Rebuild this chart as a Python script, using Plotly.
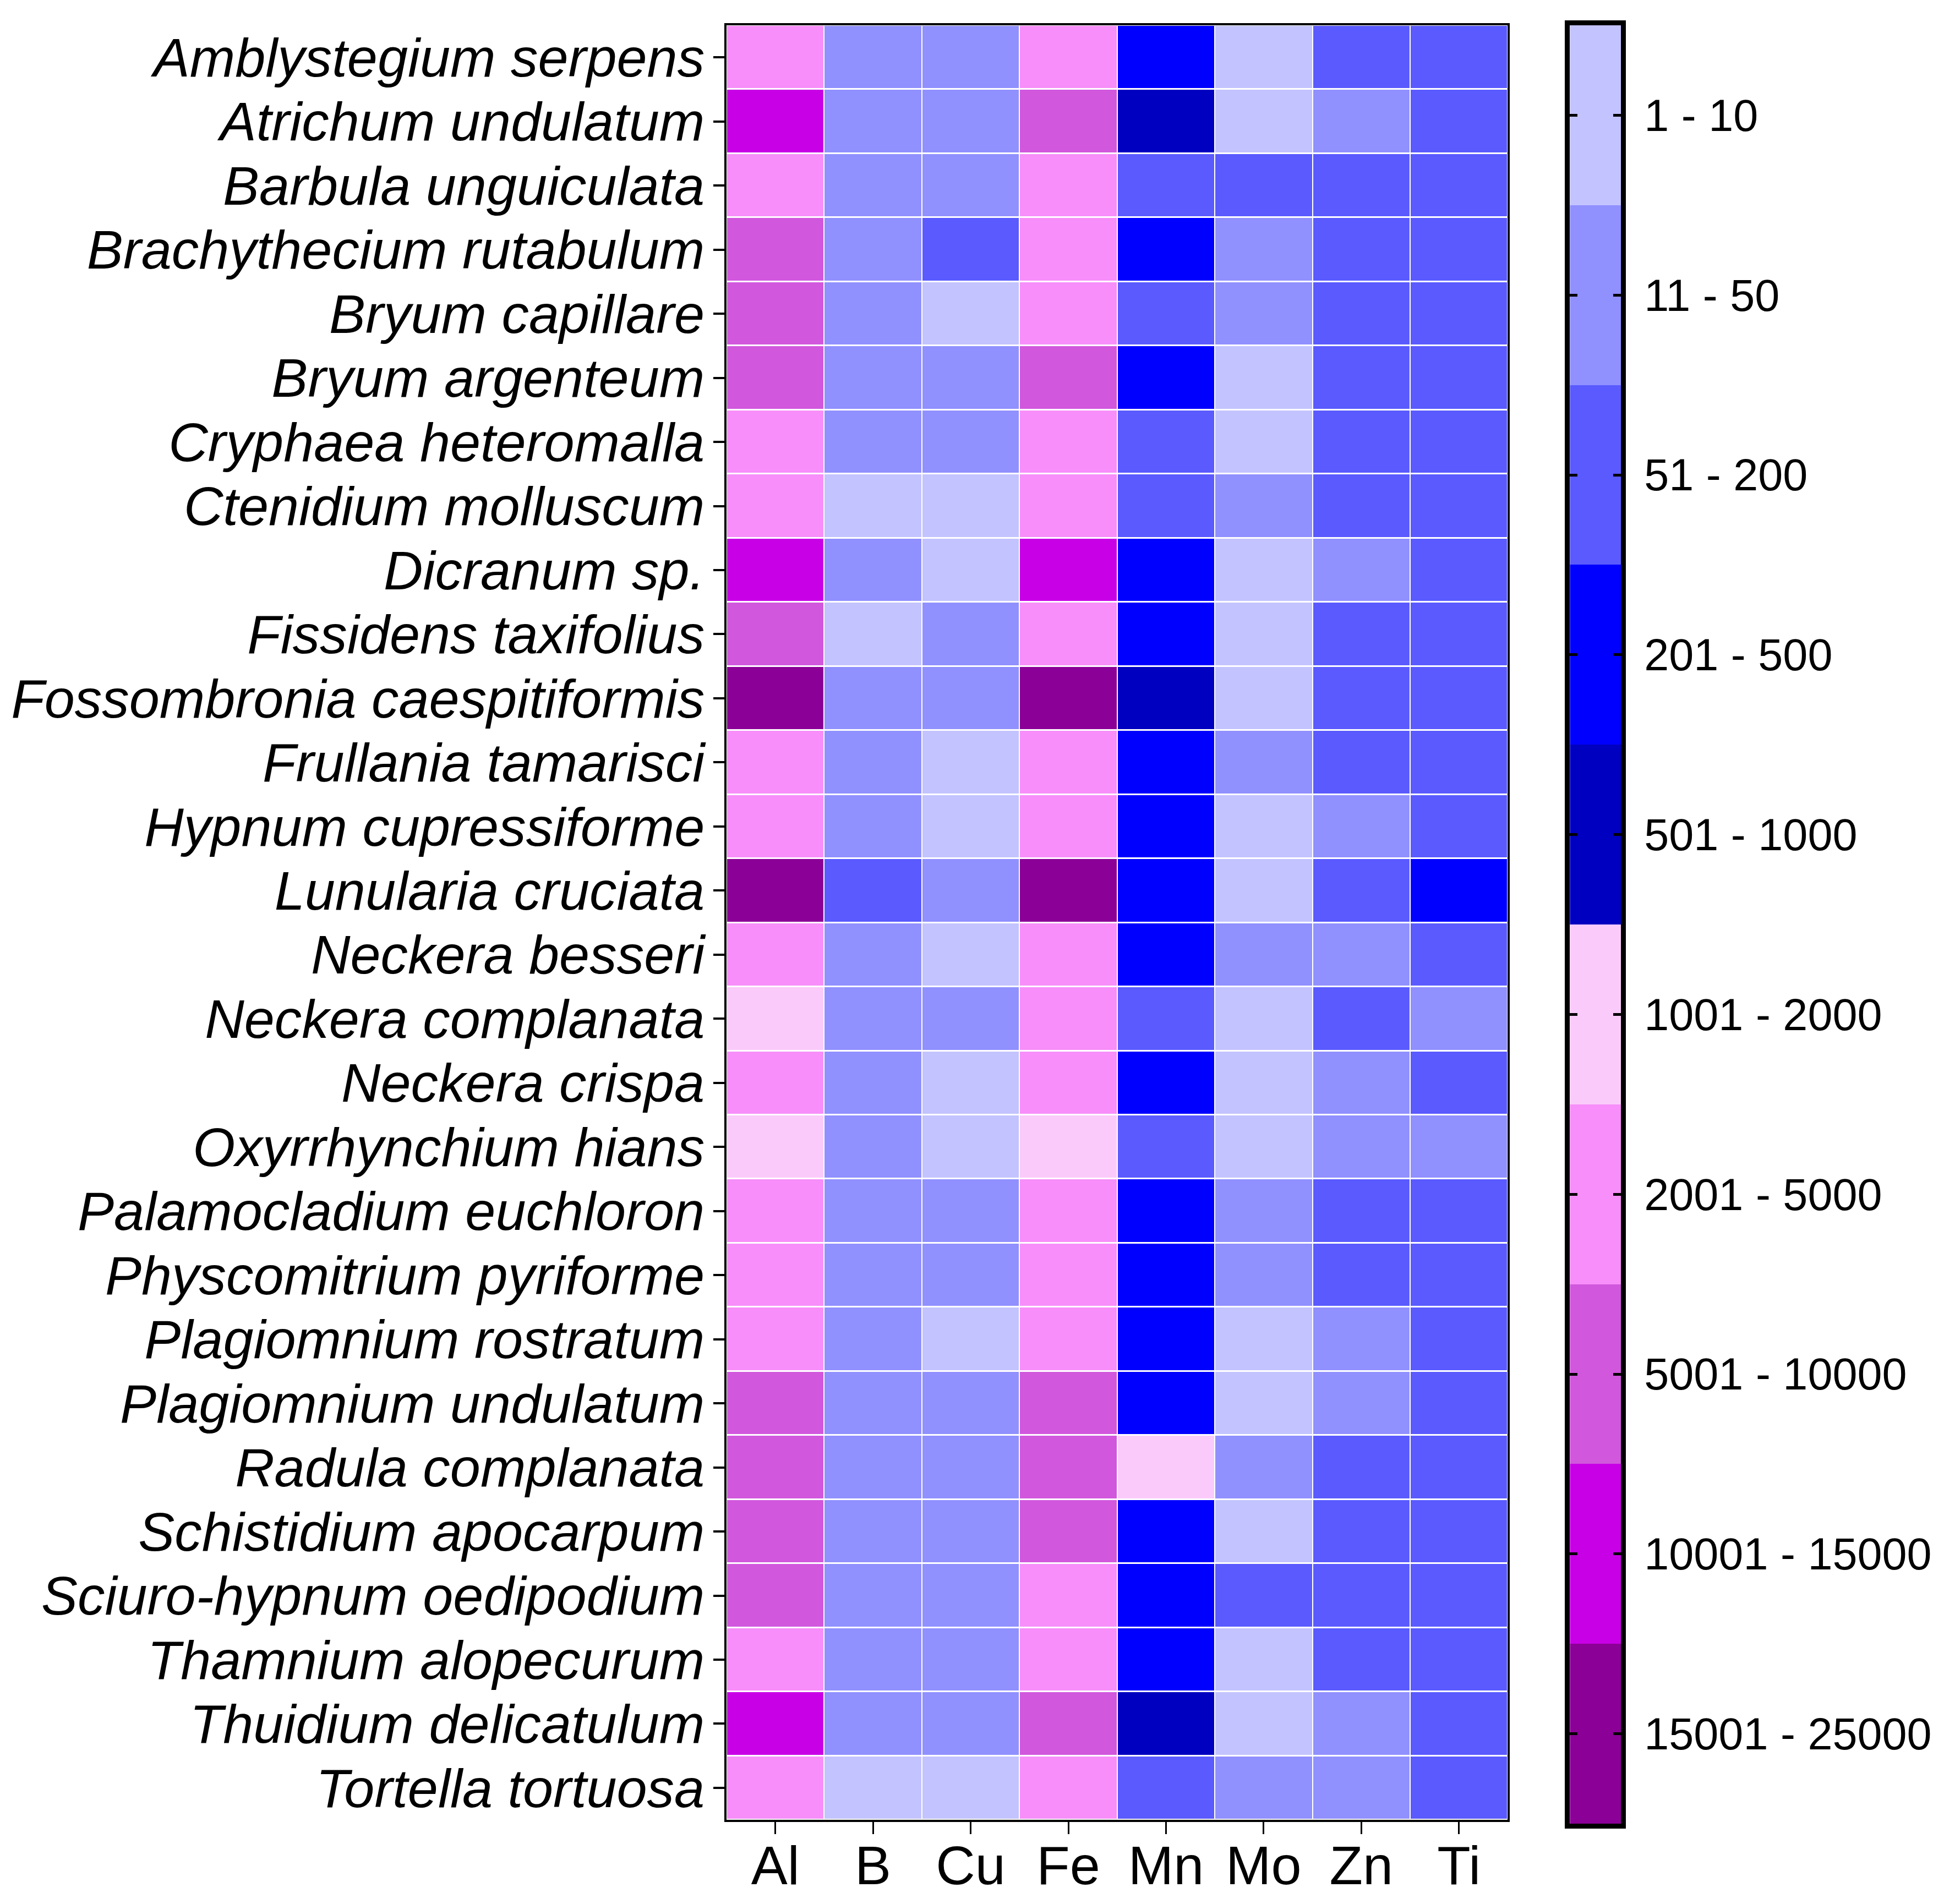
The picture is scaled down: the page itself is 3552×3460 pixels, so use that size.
import plotly.graph_objects as go

# concentration classes (legend order, top to bottom)
bins = ["1 - 10", "11 - 50", "51 - 200", "201 - 500", "501 - 1000",
        "1001 - 2000", "2001 - 5000", "5001 - 10000", "10001 - 15000", "15001 - 25000"]
bin_colors = ["#C3C3FF", "#9090FF", "#5A5AFF", "#0000FF", "#0000C0",
              "#FACBFA", "#F78EF9", "#D157DD", "#C800E6", "#8B0096"]

elements = ["Al", "B", "Cu", "Fe", "Mn", "Mo", "Zn", "Ti"]

species = [
    "Amblystegium serpens", "Atrichum undulatum", "Barbula unguiculata",
    "Brachythecium rutabulum", "Bryum capillare", "Bryum argenteum",
    "Cryphaea heteromalla", "Ctenidium molluscum", "Dicranum sp.",
    "Fissidens taxifolius", "Fossombronia caespitiformis", "Frullania tamarisci",
    "Hypnum cupressiforme", "Lunularia cruciata", "Neckera besseri",
    "Neckera complanata", "Neckera crispa", "Oxyrrhynchium hians",
    "Palamocladium euchloron", "Physcomitrium pyriforme", "Plagiomnium rostratum",
    "Plagiomnium undulatum", "Radula complanata", "Schistidium apocarpum",
    "Sciuro-hypnum oedipodium", "Thamnium alopecurum", "Thuidium delicatulum",
    "Tortella tortuosa",
]

# class index (position in bins) per element, one entry per species
Al = [6, 8, 6, 7, 7, 7, 6, 6, 8, 7, 9, 6, 6, 9, 6, 5, 6, 5, 6, 6, 6, 7, 7, 7, 7, 6, 8, 6]
B  = [1, 1, 1, 1, 1, 1, 1, 0, 1, 0, 1, 1, 1, 2, 1, 1, 1, 1, 1, 1, 1, 1, 1, 1, 1, 1, 1, 0]
Cu = [1, 1, 1, 2, 0, 1, 1, 0, 0, 1, 1, 0, 0, 1, 0, 1, 0, 0, 1, 1, 0, 1, 1, 1, 1, 1, 1, 0]
Fe = [6, 7, 6, 6, 6, 7, 6, 6, 8, 6, 9, 6, 6, 9, 6, 6, 6, 5, 6, 6, 6, 7, 7, 7, 6, 6, 7, 6]
Mn = [3, 4, 2, 3, 2, 3, 2, 2, 3, 3, 4, 3, 3, 3, 3, 2, 3, 2, 3, 3, 3, 3, 5, 3, 3, 3, 4, 2]
Mo = [0, 0, 2, 1, 1, 0, 0, 1, 0, 0, 0, 1, 0, 0, 1, 0, 0, 0, 1, 1, 0, 0, 1, 0, 2, 0, 0, 1]
Zn = [2, 1, 2, 2, 2, 2, 2, 2, 1, 2, 2, 2, 1, 2, 1, 2, 1, 1, 2, 2, 1, 1, 2, 2, 2, 2, 1, 1]
Ti = [2, 2, 2, 2, 2, 2, 2, 2, 2, 2, 2, 2, 2, 3, 2, 1, 2, 1, 2, 2, 2, 2, 2, 2, 2, 2, 2, 2]

columns = [Al, B, Cu, Fe, Mn, Mo, Zn, Ti]
z = [[col[i] for col in columns] for i in range(len(species))]

n = len(bins)
cscale = []
for i, c in enumerate(bin_colors):
    cscale.append([i / n, c])
    cscale.append([(i + 1) / n, c])

FONT = "Liberation Sans, Arial, sans-serif"

fig = go.Figure()
fig.add_trace(go.Heatmap(
    z=z, x=elements, y=species,
    colorscale=cscale, zmin=-0.5, zmax=n - 0.5,
    showscale=False, xgap=2, ygap=3,
    customdata=[[bins[v] for v in row] for row in z],
    hovertemplate="%{y}<br>%{x}: %{customdata}<extra></extra>",
))

# legend drawn as its own small heatmap so the ticks sit on both edges
fig.add_trace(go.Heatmap(
    z=[[i] for i in range(n)], x=[""], y=bins,
    colorscale=cscale, zmin=-0.5, zmax=n - 0.5,
    showscale=False, xaxis="x2", yaxis="y2",
    hovertemplate="%{y}<extra></extra>",
))

fig.update_layout(
    width=3552, height=3460,
    margin=dict(l=1308, r=615, t=38, b=154),
    plot_bgcolor="white", paper_bgcolor="white",
    font=dict(family=FONT, color="black"),
    xaxis=dict(
        domain=[0, 0.8735], showline=True, linewidth=4, linecolor="black", mirror=True,
        ticks="outside", ticklen=22, tickwidth=3, tickcolor="black",
        tickmode="array", tickvals=elements, ticklabelstandoff=-28,
        tickfont=dict(size=99, family=FONT), showgrid=False, zeroline=False,
    ),
    yaxis=dict(
        domain=[0.0021, 1],
        autorange="reversed", showline=True, linewidth=4, linecolor="black", mirror=True,
        ticks="outside", ticklen=20, tickwidth=4, tickcolor="black",
        tickmode="array", tickvals=species, ticklabelstandoff=-4,
        tickfont=dict(size=99, family=FONT, style="italic"), showgrid=False, zeroline=False,
    ),
    xaxis2=dict(
        domain=[0.9429, 1.0], anchor="y2", showticklabels=False, ticks="",
        showline=True, linewidth=9, linecolor="black", mirror=True,
        showgrid=False, zeroline=False,
    ),
    yaxis2=dict(
        domain=[0, 1],
        anchor="x2", side="right", autorange="reversed",
        showline=True, linewidth=9, linecolor="black", mirror="ticks",
        ticks="inside", ticklen=14, tickwidth=5, tickcolor="black",
        tickmode="array", tickvals=bins,
        tickfont=dict(size=81, family=FONT), ticklabelstandoff=17,
        showgrid=False, zeroline=False,
    ),
)

fig.write_html("out.html")
